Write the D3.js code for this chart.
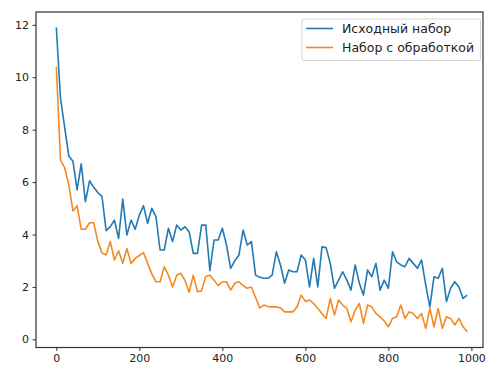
<!DOCTYPE html>
<meta charset="utf-8">
<style>
body { margin: 0; background: #fff; }
text { font-family: "DejaVu Sans", sans-serif; fill: #222; }
.axis path, .axis line { stroke: #333; }
</style>
<body>
<script src="https://cdn.jsdelivr.net/npm/d3@7"></script>
<script>

var width = 486,
    height = 370;

var seriesNames = ["Исходный набор", "Набор с обработкой"];
var seriesColors = ["#2379b4", "#f5891f"];

var xTicks = [0, 200, 400, 600, 800, 1000];
var yTicks = [0, 2, 4, 6, 8, 10, 12];

// one value every 10 steps, 0..990
var original = [
  11.9, 9.2, 8.1, 7.0, 6.8, 5.7, 6.7, 5.25, 6.05, 5.8,
  5.6, 5.45, 4.15, 4.3, 4.55, 3.85, 5.35, 3.98, 4.55, 4.2,
  4.74, 5.1, 4.43, 5.0, 4.68, 3.41, 3.41, 4.24, 3.73, 4.36,
  4.17, 4.3, 4.1, 3.28, 3.28, 4.36, 4.36, 2.62, 3.79, 3.79,
  4.24, 3.6, 2.71, 3.0, 3.22, 4.17, 3.6, 3.73, 2.45, 2.37,
  2.33, 2.33, 2.45, 3.34, 2.84, 2.14, 2.65, 2.58, 2.58, 3.22,
  3.03, 2.0, 3.09, 2.0, 3.53, 3.5, 2.9, 1.95, 2.26, 2.58,
  2.26, 1.88, 2.84, 2.14, 1.69, 2.65, 2.39, 2.9, 1.88, 2.26,
  1.95, 3.34, 2.96, 2.84, 2.77, 3.09, 2.9, 2.71, 3.03, 2.07,
  1.24, 2.39, 2.33, 2.71, 1.44, 1.95, 2.2, 2.0, 1.56, 1.69
];

var processed = [
  10.4, 6.84, 6.55, 5.9, 4.9, 5.1, 4.2, 4.2, 4.45, 4.45,
  3.73, 3.3, 3.22, 3.73, 3.03, 3.38, 2.9, 3.47, 2.9, 3.09,
  3.2, 3.31, 2.9, 2.5, 2.2, 2.2, 2.77, 2.45, 2.0, 2.45,
  2.52, 2.25, 1.8, 2.45, 1.82, 1.85, 2.4, 2.45, 2.26, 2.05,
  2.2, 2.2, 1.88, 2.14, 2.2, 2.05, 1.95, 2.0, 1.6, 1.2,
  1.31, 1.25, 1.24, 1.24, 1.2, 1.05, 1.05, 1.05, 1.24, 1.69,
  1.45, 1.5, 1.37, 1.18, 0.99, 0.8, 1.56, 0.93, 1.5, 1.31,
  1.18, 0.67, 1.12, 1.37, 0.61, 1.31, 1.24, 0.99, 0.86, 0.7,
  0.48, 0.8, 0.86, 1.31, 0.8, 1.05, 0.99, 0.8, 0.99, 0.42,
  1.18, 0.48, 1.18, 0.42, 0.86, 0.8, 0.55, 0.8, 0.48, 0.29
];

var steps = d3.range(0, original.length * 10, 10);

var frame = {left: 36, right: 483, top: 12, bottom: 347.5};

var x = d3.scaleLinear()
    .domain([-49, 1028])
    .range([frame.left, frame.right]);

var y = d3.scaleLinear()
    .domain([-0.31, 12.49])
    .range([frame.bottom, frame.top]);

var svg = d3.select("body").append("svg")
    .attr("width", width)
    .attr("height", height);

var line = d3.line()
    .x(function(d, i) { return x(steps[i]); })
    .y(function(d) { return y(d); });

[original, processed].forEach(function(s, k) {
  svg.append("path")
      .datum(s)
      .attr("fill", "none")
      .attr("stroke", seriesColors[k])
      .attr("stroke-width", 1.6)
      .attr("stroke-linejoin", "round")
      .attr("d", line);
});

// frame
svg.append("rect")
    .attr("x", frame.left)
    .attr("y", frame.top)
    .attr("width", frame.right - frame.left)
    .attr("height", frame.bottom - frame.top)
    .attr("fill", "none")
    .attr("stroke", "#333")
    .attr("stroke-width", 1.2);

var xAxis = svg.append("g")
    .attr("class", "axis")
    .attr("transform", "translate(0," + frame.bottom + ")")
    .call(d3.axisBottom(x).tickValues(xTicks).tickFormat(d3.format("d"))
      .tickSize(3.5).tickPadding(3.5));
xAxis.select(".domain").remove();
xAxis.selectAll("text").attr("font-size", "11px").style("font-family", "DejaVu Sans");

var yAxis = svg.append("g")
    .attr("class", "axis")
    .attr("transform", "translate(" + frame.left + ",0)")
    .call(d3.axisLeft(y).tickValues(yTicks).tickSize(3.5).tickPadding(3.5));
yAxis.select(".domain").remove();
yAxis.selectAll("text").attr("font-size", "11px").style("font-family", "DejaVu Sans");

// legend
var legend = svg.append("g");
legend.append("rect")
    .attr("x", 302)
    .attr("y", 19)
    .attr("width", 178.5)
    .attr("height", 41.5)
    .attr("rx", 2)
    .attr("fill", "#fff")
    .attr("fill-opacity", 0.8)
    .attr("stroke", "#d6d6d6");

seriesNames.forEach(function(name, k) {
  var ly = 28.5 + k * 19;
  legend.append("line")
      .attr("x1", 306).attr("x2", 333)
      .attr("y1", ly).attr("y2", ly)
      .attr("stroke", seriesColors[k])
      .attr("stroke-width", 1.6);
  legend.append("text")
      .attr("x", 342)
      .attr("y", ly + 4.5)
      .attr("font-size", "12.5px")
      .text(name);
});

</script>
</body>
